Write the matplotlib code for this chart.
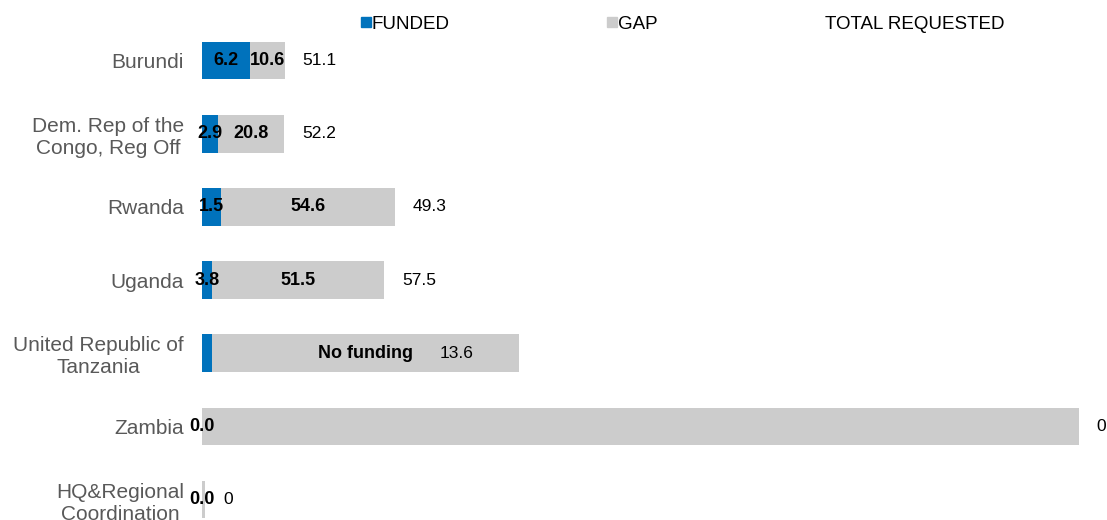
import matplotlib
matplotlib.use('Agg')
import matplotlib.pyplot as plt
from matplotlib.lines import Line2D

plt.rcParams['font.family'] = ['Liberation Sans', 'DejaVu Sans']

# bar lengths as drawn in the source chart (arbitrary units)
categories = ['Burundi', 'Dem. Rep of the\nCongo, Reg Off', 'Rwanda', 'Uganda',
              'United Republic of\nTanzania', 'Zambia', 'HQ&Regional\nCoordination']
funded = [4.8, 1.55, 1.9, 0.95, 0.95, 0.0, 0.0]
gap = [3.45, 6.65, 17.4, 17.25, 30.7, 87.65, 0.33]

# value labels printed on the source chart
funded_labels = ['6.2', '2.9', '1.5', '3.8', '', '0.0', '0.0']
gap_labels = ['10.6', '20.8', '54.6', '51.5', 'No funding', '', '']
total_labels = ['51.1', '52.2', '49.3', '57.5', '13.6', '0', '0']

BLUE = '#0072BC'
GREY = '#CCCCCC'

fig = plt.figure(figsize=(11.07, 5.2), dpi=100)
ax = fig.add_axes([202 / 1107, 0, 1 - 202 / 1107, 1])

y = list(range(len(categories)))
ax.barh(y, funded, height=0.515, color=BLUE, label='FUNDED')
ax.barh(y, gap, left=funded, height=0.515, color=GREY, label='GAP')

ax.set_xlim(0, 90.5)
ax.set_ylim(6.280, -0.827)

for i in y:
    end = funded[i] + gap[i]
    ax.annotate(funded_labels[i], (funded[i] / 2, i), ha='center', va='center',
                fontsize=13, fontweight='bold', color='black', annotation_clip=False)
    g = ax.annotate(gap_labels[i], (funded[i] + gap[i] / 2, i), ha='center', va='center',
                    fontsize=13, fontweight='bold', color='black')
    if gap_labels[i] == 'No funding':
        # total sits just after the "No funding" text
        ax.annotate(total_labels[i], (1, 0.5), xycoords=g, xytext=(27, 0),
                    textcoords='offset pixels', ha='left', va='center',
                    fontsize=12.5, color='black')
    else:
        ax.annotate(total_labels[i], (end, i), xytext=(18, 0),
                    textcoords='offset pixels', ha='left', va='center',
                    fontsize=12.5, color='black')

ax.set_yticks(y)
ax.set_yticklabels(categories, fontsize=15, color='#595959', linespacing=1.2,
                   multialignment='center')
ax.tick_params(axis='y', length=0, pad=13)
ax.set_xticks([])
for s in ax.spines.values():
    s.set_visible(False)

handles = [Line2D([], [], marker='s', color=BLUE, linestyle='none', markersize=7),
           Line2D([], [], marker='s', color=GREY, linestyle='none', markersize=7),
           Line2D([], [], marker='s', color='none', linestyle='none', markersize=7)]
fig.legend(handles, ['FUNDED', 'GAP', 'TOTAL REQUESTED'], ncol=3,
           loc='center', bbox_to_anchor=(0.617, 0.953), frameon=False,
           fontsize=13.5, handlelength=0.5, handletextpad=0.05, columnspacing=8.4)

fig.savefig('out.png', dpi=100)
